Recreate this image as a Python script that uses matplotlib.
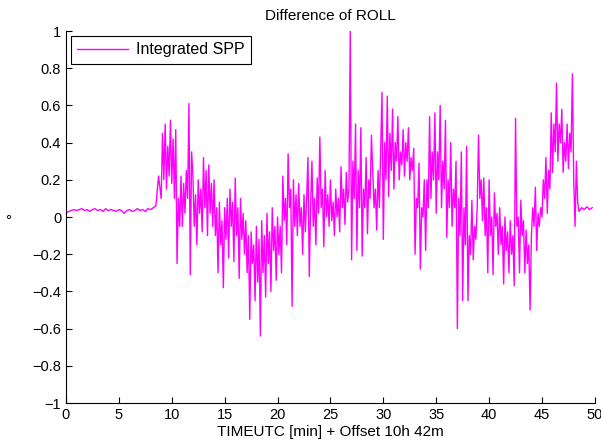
import matplotlib.pyplot as plt
import numpy as np

plt.rcParams['font.family'] = ['Liberation Sans', 'DejaVu Sans']

# quiet part before the active phase (0 .. 8.75 min, every 0.25 min)
quiet_start = [0.02, 0.03, 0.035, 0.04, 0.035, 0.04, 0.045, 0.035, 0.04, 0.03,
               0.04, 0.045, 0.035, 0.04, 0.03, 0.045, 0.035, 0.04, 0.035, 0.03,
               0.04, 0.035, 0.02, 0.035, 0.04, 0.03, 0.035, 0.045, 0.035, 0.04,
               0.03, 0.045, 0.04, 0.05, 0.06, 0.22]

# active phase, 9.000 .. 48.375 min, every 0.125 min (one row per minute)
active = [
    0.10, 0.45, 0.20, 0.50, 0.15, 0.38, 0.22, 0.52,        # 9
    0.18, 0.42, 0.10, 0.47, -0.25, 0.10, -0.05, 0.22,      # 10
    -0.05, 0.18, 0.02, 0.25, 0.10, 0.61, -0.31, 0.35,      # 11
    0.22, -0.05, 0.12, -0.15, 0.20, 0.02, 0.15, -0.08,     # 12
    0.32, 0.05, 0.25, -0.10, 0.28, 0.02, 0.18, -0.05,      # 13
    0.20, -0.10, 0.05, -0.30, 0.08, -0.15, -0.02, -0.38,   # 14
    0.05, -0.12, 0.10, -0.22, 0.15, -0.05, 0.08, -0.24,    # 15
    0.21, -0.10, 0.05, -0.33, 0.10, -0.12, 0.02, -0.20,    # 16
    -0.02, -0.30, -0.10, -0.55, -0.08, -0.25, -0.15, -0.45,  # 17
    -0.05, -0.35, -0.12, -0.64, -0.02, -0.30, -0.10, -0.43,  # 18
    0.02, -0.25, -0.08, -0.40, 0.05, -0.18, -0.05, -0.34,  # 19
    0.00, -0.20, -0.05, -0.30, 0.22, -0.02, 0.10, -0.15,   # 20
    0.34, 0.05, 0.15, -0.48, 0.20, -0.05, 0.12, -0.10,     # 21
    0.18, -0.05, 0.05, -0.20, 0.12, -0.08, 0.10, 0.32,     # 22
    -0.32, 0.05, 0.30, -0.05, 0.10, -0.15, 0.21, 0.02,     # 23
    0.43, 0.05, 0.15, -0.16, 0.25, 0.00, 0.12, -0.05,      # 24
    0.20, -0.02, 0.08, -0.10, 0.15, 0.00, 0.10, -0.08,     # 25
    0.27, 0.05, 0.15, -0.04, 0.24, 0.08, 0.15, 1.00,       # 26
    -0.23, 0.30, 0.10, 0.50, -0.18, 0.25, 0.05, 0.48,      # 27
    -0.21, 0.15, 0.05, 0.32, -0.09, 0.20, 0.10, 0.44,      # 28
    0.25, 0.05, 0.15, -0.07, 0.25, 0.05, 0.35, 0.67,       # 29
    -0.12, 0.40, 0.20, 0.65, 0.11, 0.45, 0.25, 0.58,       # 30
    0.15, 0.40, 0.30, 0.54, 0.20, 0.35, 0.28, 0.47,        # 31
    0.22, 0.40, 0.30, 0.48, 0.20, 0.32, 0.25, 0.37,        # 32
    -0.20, 0.10, 0.05, 0.29, -0.28, 0.05, 0.00, 0.20,      # 33
    -0.18, 0.20, 0.05, 0.54, 0.10, 0.35, 0.20, 0.56,       # 34
    0.02, 0.35, 0.20, 0.60, 0.05, 0.30, 0.15, 0.52,        # 35
    -0.11, 0.20, 0.05, 0.40, -0.05, 0.15, 0.05, 0.30,      # 36
    -0.60, 0.10, -0.10, 0.35, -0.45, 0.05, -0.15, 0.38,    # 37
    -0.45, -0.10, -0.20, 0.09, -0.23, -0.05, -0.12, 0.05,  # 38
    0.44, 0.10, 0.20, -0.02, 0.21, -0.10, 0.05, -0.30,     # 39
    0.20, -0.10, 0.00, -0.31, 0.13, -0.05, 0.02, -0.20,    # 40
    0.05, -0.15, -0.05, -0.36, 0.00, -0.18, -0.08, -0.30,  # 41
    -0.02, -0.20, -0.10, -0.37, 0.53, -0.05, 0.00, -0.30,  # 42
    0.09, -0.10, -0.02, -0.30, -0.07, -0.25, -0.15, -0.50,  # 43
    -0.10, 0.05, -0.05, 0.16, -0.18, 0.02, -0.05, 0.05,    # 44
    0.00, 0.20, 0.10, 0.32, 0.02, 0.25, 0.15, 0.56,        # 45
    0.24, 0.50, 0.35, 0.72, 0.30, 0.50, 0.40, 0.58,        # 46
    0.24, 0.40, 0.30, 0.50, 0.26, 0.45, 0.35, 0.77,        # 47
    0.20, -0.05, 0.30, 0.08,                               # 48
]

# quiet tail, 48.5 .. 49.75 min
quiet_end = [0.03, 0.05, 0.04, 0.055, 0.04, 0.05]

t_start = np.arange(len(quiet_start)) * 0.25
t_active = 9.0 + np.arange(len(active)) * 0.125
t_end = 48.5 + np.arange(len(quiet_end)) * 0.25
t = np.concatenate([t_start, t_active, t_end])
y = np.array(quiet_start + active + quiet_end)

yticks = np.round(np.arange(-1, 1.01, 0.2), 1) + 0.0
ytick_labels = [('%g' % v).replace('-', '\u2212') for v in yticks]
ytick_labels = ['0' if s == '\u22120' else s for s in ytick_labels]

fig = plt.figure(figsize=(6.01, 4.47), dpi=100)
ax = fig.add_axes([0.1098, 0.0984, 0.880, 0.8322])

ax.plot(t, y, color=(1, 0, 1), lw=1.0, label='Integrated SPP')

ax.set_xlim(0, 50)
ax.set_ylim(-1, 1)
ax.set_xticks(np.arange(0, 51, 5))
ax.set_yticks(yticks)
ax.set_yticklabels(ytick_labels)
ax.tick_params(direction='in', length=4, labelsize=10.5, top=False, right=False)
ax.spines['top'].set_visible(False)
ax.spines['right'].set_visible(False)

ax.set_title('Difference of ROLL', fontsize=11, pad=8)
ax.set_xlabel('TIMEUTC [min] + Offset 10h 42m', fontsize=11, labelpad=2)
ax.set_ylabel('°', fontsize=11, rotation=0)
ax.yaxis.set_label_coords(-0.11, 0.47)

leg = ax.legend(loc='upper left', fontsize=11.5, handlelength=3.2, handletextpad=0.5,
                fancybox=False, edgecolor='black', framealpha=1, borderaxespad=0.3)
leg.get_frame().set_linewidth(0.8)

fig.savefig('out.png', dpi=100)
